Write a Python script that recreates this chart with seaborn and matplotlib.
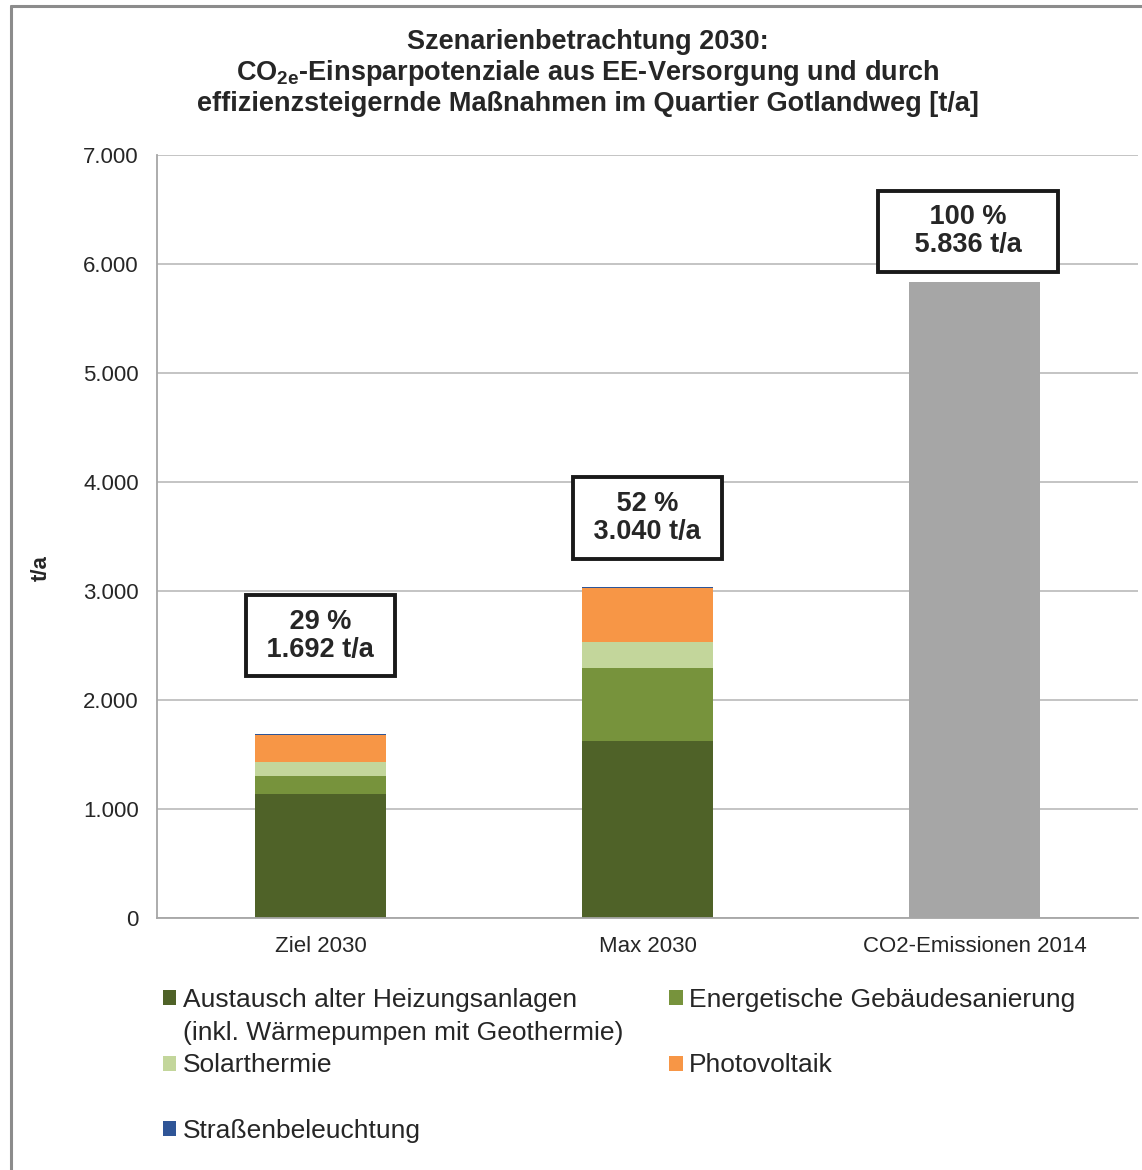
import numpy as np
import pandas as pd
import seaborn as sns
import matplotlib.pyplot as plt
from matplotlib.patches import Patch
from matplotlib.lines import Line2D
from matplotlib.ticker import FuncFormatter, FixedLocator

'''
DATA
'''
categories = ['Ziel 2030', 'Max 2030', 'CO2-Emissionen 2014']
heizung = [1138, 1624, 0]
gebaeude = [167, 670, 0]
solar = [129, 235, 0]
pv = [243, 495, 0]
strasse = [15, 16, 0]
emissionen = [0, 0, 5836]

box_pct = ['29 %', '52 %', '100 %']
box_total = ['1.692 t/a', '3.040 t/a', '5.836 t/a']

# layout only: position of the label boxes (t/a, category offset) and extra side padding
box_y = [2590, 3670, 6300]
box_dx = [0, 0, -0.02]
box_pad = [1, 1, 3]

colors = {
    'heizung': '#4F6228',
    'gebaeude': '#77933C',
    'solar': '#C3D69B',
    'pv': '#F79646',
    'strasse': '#2F5597',
    'emissionen': '#A6A6A6',
}

sns.set_style('white')
plt.rcParams['font.family'] = ['Liberation Sans', 'DejaVu Sans']
plt.rcParams['mathtext.fontset'] = 'custom'
plt.rcParams['mathtext.bf'] = 'Liberation Sans:bold'
plt.rcParams['mathtext.rm'] = 'Liberation Sans'

fig = plt.figure(figsize=(11.42, 11.70), dpi=100)
ax = fig.add_axes([157 / 1142, 1 - 918 / 1170, (1138 - 157) / 1142, (918 - 155) / 1170])

'''
STACKED BARS (drawn from the top of the stack down)
'''
stack = [heizung, gebaeude, solar, pv, strasse]
stack_colors = [colors['heizung'], colors['gebaeude'], colors['solar'], colors['pv'], colors['strasse']]
cum = np.cumsum(np.array(stack), axis=0)
for i in range(len(stack) - 1, -1, -1):
    sns.barplot(x=categories, y=cum[i], color=stack_colors[i], width=0.4,
                saturation=1, linewidth=0, ax=ax, order=categories)
sns.barplot(x=categories, y=emissionen, color=colors['emissionen'], width=0.4,
            saturation=1, linewidth=0, ax=ax, order=categories)

ax.set_xlim(-0.5, 2.5)
ax.set_ylim(0, 7000)
ax.set_yticks(range(0, 7001, 1000))
ax.yaxis.set_major_formatter(FuncFormatter(lambda v, p: f'{int(v):,}'.replace(',', '.')))
ax.set_xticks(range(len(categories)))
ax.set_xticklabels(categories, fontsize=16)
ax.xaxis.set_minor_locator(FixedLocator([-0.5, 0.5, 1.5, 2.5]))
ax.tick_params(axis='x', which='major', length=0, pad=13)
ax.tick_params(axis='x', which='minor', length=7, color='#A6A6A6', width=1.2)
ax.tick_params(axis='y', length=7, color='#A6A6A6', width=1.2, labelsize=16, pad=6)
ax.set_axisbelow(True)
ax.yaxis.grid(True, color='#BFBFBF', linewidth=1.3)
for s in ['top', 'right']:
    ax.spines[s].set_visible(False)
for s in ['left', 'bottom']:
    ax.spines[s].set_color('#A6A6A6')
    ax.spines[s].set_linewidth(1.3)
ax.set_xlabel('')
ax.set_ylabel('t/a', fontsize=16, fontweight='bold')
ax.yaxis.set_label_coords((52 - 157) / 981, (918 - 568) / 763)

'''
LABEL BOXES
'''
for i, cat in enumerate(categories):
    sp = ' ' * box_pad[i]
    ax.text(i + box_dx[i], box_y[i], sp + box_pct[i] + sp + '\n' + sp + box_total[i] + sp,
            ha='center', va='center', fontsize=19.5, fontweight='bold', linespacing=1.1,
            bbox=dict(boxstyle='square,pad=0.5', facecolor='white', edgecolor='#1a1a1a', linewidth=2.8))

'''
TITLE
'''
title_lines = ['Szenarienbetrachtung 2030:',
               r'CO$_{\mathbf{2e}}$-Einsparpotenziale aus EE-Versorgung und durch',
               'effizienzsteigernde Maßnahmen im Quartier Gotlandweg [t/a]']
for j, line in enumerate(title_lines):
    fig.text(588 / 1142, 1 - (42 + 31 * j) / 1170, line, ha='center', va='center',
             fontsize=19.5, fontweight='bold')

'''
LEGEND
'''
def sq(c):
    return Patch(facecolor=c, edgecolor='none')

blank = Patch(facecolor='none', edgecolor='none')
legend_handles = [sq(colors['heizung']), blank, sq(colors['solar']), blank, sq(colors['strasse']),
                  sq(colors['gebaeude']), blank, sq(colors['pv']), blank, blank]
legend_labels = ['Austausch alter Heizungsanlagen', '(inkl. Wärmepumpen mit Geothermie)',
                 'Solarthermie', ' ', 'Straßenbeleuchtung',
                 'Energetische Gebäudesanierung', ' ', 'Photovoltaik', ' ', ' ']
fig.legend(legend_handles, legend_labels, ncol=2, loc='upper left',
           bbox_to_anchor=(163 / 1142, 1 - 988 / 1170), frameon=False,
           fontsize=19, handlelength=0.5, handleheight=0.5, handletextpad=0.25,
           labelspacing=0.33, columnspacing=1.75, borderpad=0, borderaxespad=0)

# outer frame of the original chart
fig.add_artist(Line2D([11 / 1142, 11 / 1142], [0, 1 - 6 / 1170], color='#8C8C8C', linewidth=2.2))
fig.add_artist(Line2D([11 / 1142, 1], [1 - 6 / 1170, 1 - 6 / 1170], color='#8C8C8C', linewidth=2.2))

fig.savefig('out.png', dpi=100)
